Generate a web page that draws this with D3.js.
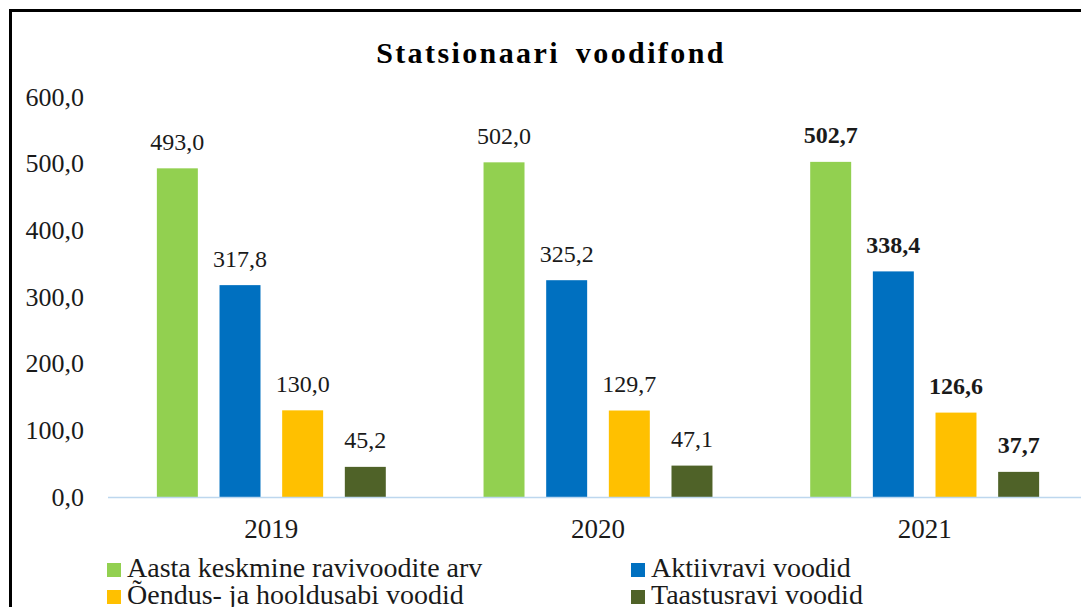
<!DOCTYPE html>
<html>
<head>
<meta charset="utf-8">
<script src="https://cdn.jsdelivr.net/npm/d3@7"></script>
<style>
    body { margin: 0; background: #fff; }
    svg { display: block; }
    text { font-family: 'Liberation Serif', 'Times New Roman', serif; fill: #1a1a1a; }
</style>
</head>
<body>
<svg id="chart"></svg>
<script>
const years = ['2019', '2020', '2021'];
const seriesNames = [
    'Aasta keskmine ravivoodite arv',
    'Aktiivravi voodid',
    'Õendus- ja hooldusabi voodid',
    'Taastusravi voodid'
];
const seriesColors = ['#92d050', '#0070c0', '#ffc000', '#4f6228'];
const totalBeds = [493.0, 502.0, 502.7];
const activeBeds = [317.8, 325.2, 338.4];
const nursingBeds = [130.0, 129.7, 126.6];
const rehabBeds = [45.2, 47.1, 37.7];
const boldYears = ['2021'];
const yTicks = [0, 100, 200, 300, 400, 500, 600];

const seriesValues = [totalBeds, activeBeds, nursingBeds, rehabBeds];

const width = 1081;
const height = 607;
const serif = "'Liberation Serif', 'Times New Roman', serif";

const svg = d3.select('#chart')
    .attr('width', width)
    .attr('height', height);

// frame: only left and top edges are visible, the rest is cropped
svg.append('path')
    .attr('d', 'M10.5,' + (height + 10) + ' V10.5 H' + (width + 10))
    .attr('fill', 'none')
    .attr('stroke', '#000')
    .attr('stroke-width', 3);

svg.append('text')
    .attr('x', 551)
    .attr('y', 63)
    .attr('text-anchor', 'middle')
    .style('font-size', '30px')
    .style('font-weight', 'bold')
    .style('letter-spacing', '2.4px')
    .style('word-spacing', '6px')
    .style('fill', '#000')
    .text('Statsionaari voodifond');

const x0 = d3.scaleBand().domain(years).range([108, 1088]);
const x1 = d3.scaleBand().domain(seriesNames).range([0, x0.bandwidth()])
    .paddingInner(0.346).paddingOuter(0.78);
const y = d3.scaleLinear().domain([0, 600]).range([497, 97]);

const fmt = function (v) { return d3.format('.1f')(v).replace('.', ','); };

const yAxis = svg.append('g')
    .attr('transform', 'translate(84,0)')
    .call(d3.axisLeft(y).tickValues(yTicks).tickFormat(fmt).tickSize(0).tickPadding(0));
yAxis.select('.domain').remove();
yAxis.selectAll('text')
    .style('font-family', serif)
    .style('font-size', '26px')
    .style('fill', '#1a1a1a');

const groups = svg.selectAll('.year')
    .data(years).enter().append('g')
    .attr('class', 'year')
    .attr('transform', function (d) { return 'translate(' + x0(d) + ',0)'; });

groups.each(function (yr, i) {
    const g = d3.select(this);
    const rows = seriesNames.map(function (s, k) {
        return { name: s, value: seriesValues[k][i], color: seriesColors[k] };
    });
    g.selectAll('rect')
        .data(rows).enter().append('rect')
        .attr('x', function (d) { return x1(d.name); })
        .attr('width', x1.bandwidth())
        .attr('y', function (d) { return y(d.value); })
        .attr('height', function (d) { return y(0) - y(d.value); })
        .attr('fill', function (d) { return d.color; });
    g.selectAll('.label')
        .data(rows).enter().append('text')
        .attr('class', 'label')
        .attr('x', function (d) { return x1(d.name) + x1.bandwidth() / 2; })
        .attr('y', function (d) { return y(d.value) - 18.5; })
        .attr('text-anchor', 'middle')
        .style('font-size', '24px')
        .style('font-weight', boldYears.indexOf(yr) >= 0 ? 'bold' : 'normal')
        .text(function (d) { return fmt(d.value); });
});

// baseline
svg.append('line')
    .attr('x1', 108).attr('x2', 1088)
    .attr('y1', y(0) + 0.5).attr('y2', y(0) + 0.5)
    .attr('stroke', '#bdd7ee')
    .attr('stroke-width', 1.5);

const xAxis = svg.append('g')
    .attr('transform', 'translate(0,' + y(0) + ')')
    .call(d3.axisBottom(x0).tickSize(0).tickPadding(0));
xAxis.select('.domain').remove();
xAxis.selectAll('text')
    .attr('dy', null)
    .attr('y', 41)
    .style('font-family', serif)
    .style('font-size', '27px')
    .style('fill', '#1a1a1a');

// legend, two columns, bottom row is cut by the page edge like the original
const legendPos = [[107, 563], [631, 563], [107, 590], [631, 590]];
const legend = svg.selectAll('.legend')
    .data(seriesNames).enter().append('g')
    .attr('class', 'legend')
    .attr('transform', function (d, i) { return 'translate(' + legendPos[i][0] + ',' + legendPos[i][1] + ')'; });
legend.append('rect')
    .attr('width', 14).attr('height', 14)
    .attr('fill', function (d, i) { return seriesColors[i]; });
legend.append('text')
    .attr('x', 20)
    .attr('y', 14)
    .style('font-size', '28px')
    .text(function (d) { return d; });
</script>
</body>
</html>
